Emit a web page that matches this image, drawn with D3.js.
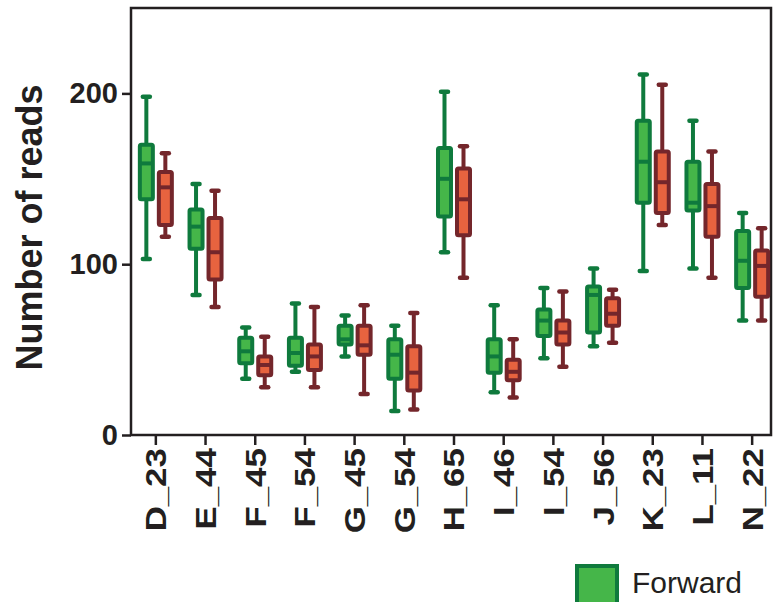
<!DOCTYPE html>
<html>
<head>
<meta charset="utf-8">
<script src="https://cdn.jsdelivr.net/npm/d3@7.9.0/dist/d3.min.js"></script>
<style>
  body { margin: 0; background: #fff; }
  svg { display: block; font-family: "Liberation Sans", Arial, sans-serif; }
</style>
</head>
<body>
<svg id="chart" width="773" height="602"></svg>
<script>
// categories on the x axis
const categories = ['D_23', 'E_44', 'F_45', 'F_54', 'G_45', 'G_54', 'H_65',
  'I_46', 'I_54', 'J_56', 'K_23', 'L_11', 'N_22'];

// [min, q1, median, q3, max] per category
const forward = [
  [103, 138, 159, 170, 198],
  [82, 109, 122, 132, 147],
  [33, 42, 49, 57, 63],
  [37, 40.5, 48, 57, 77],
  [46, 53, 56, 64, 70],
  [14, 33, 47, 56, 64],
  [107, 128, 150, 168, 201],
  [25, 36.5, 46, 56, 76],
  [45, 58, 67, 73.5, 86],
  [52, 60, 82, 87, 97.5],
  [96, 136, 160, 184, 211],
  [97.5, 131.5, 136, 160, 184],
  [67, 86, 102, 119.5, 130]
];

const reverse = [
  [116, 123, 145, 154, 165],
  [75, 91, 107, 127, 143],
  [28, 35, 41, 46, 57.5],
  [28, 38, 46, 53, 75],
  [24, 47, 52.5, 64, 76],
  [15, 26, 36.5, 52, 71.5],
  [92, 117, 138, 156, 169],
  [22, 32, 37, 44, 56],
  [40, 53, 60, 67, 84],
  [54, 64, 71, 80, 85],
  [123, 130, 148, 166, 205],
  [92, 116, 134, 147, 166],
  [67, 81, 99, 108, 121]
];

const yTicks = [0, 100, 200];

const series = [
  { name: 'Forward', data: forward, dark: '#0f7a3d', light: '#45b649', offset: -9.5 },
  { name: 'Reverse', data: reverse, dark: '#74262b', light: '#e7633f', offset: 9.5 }
];

const ink = '#231f20';
const plotL = 131, plotR = 771, plotT = 8, plotB = 435;

const svg = d3.select('#chart');

const x = d3.scaleBand().domain(categories).range([plotL, 777]);
const y = d3.scaleLinear().domain([0, 250]).range([plotB, plotT]);

// frame
svg.append('rect')
  .attr('x', plotL).attr('y', plotT)
  .attr('width', plotR - plotL).attr('height', plotB - plotT)
  .attr('fill', 'none').attr('stroke', ink).attr('stroke-width', 2.5);

// y axis
const yAxis = svg.append('g')
  .attr('transform', `translate(${plotL},0)`)
  .call(d3.axisLeft(y).tickValues(yTicks).tickSize(9).tickPadding(4));
yAxis.select('.domain').remove();
yAxis.selectAll('line').attr('stroke', ink).attr('stroke-width', 2.5);
yAxis.selectAll('text')
  .attr('fill', ink).attr('font-size', 29).attr('font-weight', 'bold')
  .attr('font-family', '"Liberation Sans", Arial, sans-serif');

// x axis, labels are drawn a bit stretched along their length like the original
const xAxis = svg.append('g')
  .attr('transform', `translate(0,${plotB})`)
  .call(d3.axisBottom(x).tickSize(10).tickPadding(3));
xAxis.select('.domain').remove();
xAxis.selectAll('line').attr('stroke', ink).attr('stroke-width', 2.5);
xAxis.selectAll('text')
  .attr('fill', ink).attr('font-size', 29).attr('font-weight', 'bold')
  .attr('font-family', '"Liberation Sans", Arial, sans-serif')
  .attr('text-anchor', 'end')
  .attr('transform', 'rotate(-90) scale(1.2,1)')
  .attr('x', -11).attr('y', 0).attr('dy', '0.36em');

// axis title
svg.append('text')
  .attr('transform', `translate(42,${(plotT + plotB) / 2 + 6}) rotate(-90)`)
  .attr('text-anchor', 'middle')
  .attr('fill', ink).attr('font-size', 36).attr('font-weight', 'bold')
  .text('Number of reads');

// boxes
const boxW = 13, capHalf = 3.5;
series.forEach((s) => {
  const g = svg.append('g');
  const items = g.selectAll('g.box')
    .data(s.data.map((d, i) => ({ cat: categories[i], v: d })))
    .enter().append('g')
    .attr('class', 'box')
    .attr('transform', (d) => `translate(${x(d.cat) + x.bandwidth() / 2 + s.offset},0)`);

  items.append('line')
    .attr('x1', 0).attr('x2', 0)
    .attr('y1', (d) => y(d.v[0])).attr('y2', (d) => y(d.v[4]))
    .attr('stroke', s.dark).attr('stroke-width', 4);

  items.selectAll('line.cap')
    .data((d) => [d.v[0], d.v[4]])
    .enter().append('line')
    .attr('class', 'cap')
    .attr('x1', -capHalf).attr('x2', capHalf)
    .attr('y1', (d) => y(d)).attr('y2', (d) => y(d))
    .attr('stroke', s.dark).attr('stroke-width', 4.5).attr('stroke-linecap', 'round');

  items.append('rect')
    .attr('x', -boxW / 2).attr('width', boxW)
    .attr('y', (d) => y(d.v[3]))
    .attr('height', (d) => y(d.v[1]) - y(d.v[3]))
    .attr('rx', 1.5)
    .attr('fill', s.light).attr('stroke', s.dark).attr('stroke-width', 4);

  items.append('line')
    .attr('x1', -boxW / 2).attr('x2', boxW / 2)
    .attr('y1', (d) => y(d.v[2])).attr('y2', (d) => y(d.v[2]))
    .attr('stroke', s.dark).attr('stroke-width', 4);
});

// legend (first entry, the rest falls outside the picture)
const legend = svg.append('g').attr('transform', 'translate(577,566)');
legend.append('rect')
  .attr('width', 40).attr('height', 40)
  .attr('fill', series[0].light).attr('stroke', series[0].dark).attr('stroke-width', 4);
legend.append('text')
  .attr('x', 55).attr('y', 27)
  .attr('fill', ink).attr('font-size', 30)
  .text(series[0].name);
</script>
</body>
</html>
